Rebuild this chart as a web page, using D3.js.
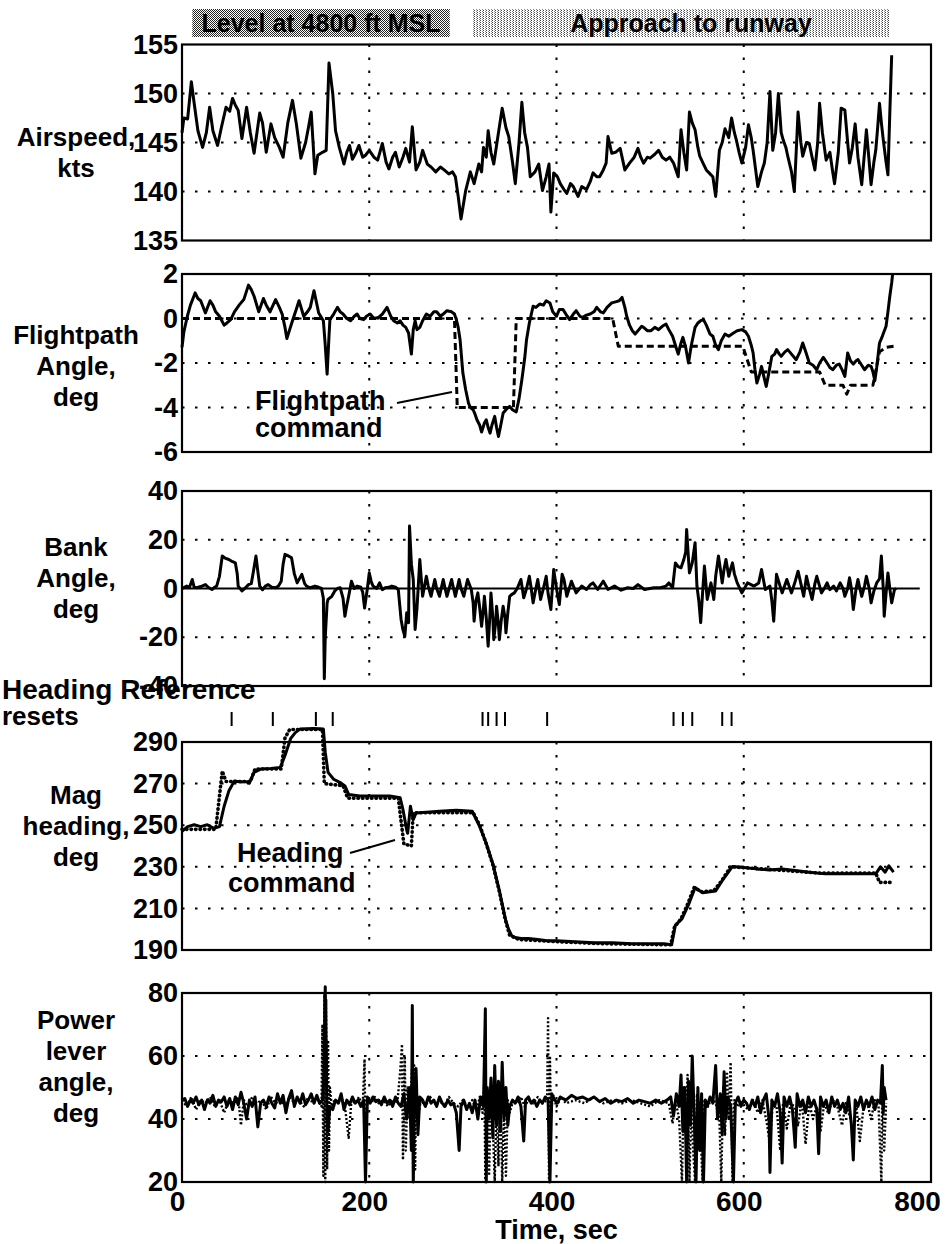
<!DOCTYPE html>
<html>
<head>
<meta charset="utf-8">
<script src="https://cdn.jsdelivr.net/npm/d3@7"></script>
<style>
body { margin: 0; background: #fff; }
svg { display: block; }
text { font-family: "Liberation Sans", Arial, sans-serif; font-weight: bold; fill: #000; }
</style>
</head>
<body>
<script>
// time axis
const timeTicks = [0, 200, 400, 600, 800];
const timeGrid = [200, 400, 600];

// phase banners [start, end, label]
const phases = [[11, 286, "Level at 4800 ft MSL"], [310, 756, "Approach to runway"]];

// heading reference reset times (sec)
const resetTimes = [53, 97, 143, 161, 321, 327, 336, 345, 390, 525, 535, 545, 577, 587];

// airspeed, kts
const airspeed = [[0,146],[2,147.5],[6,147.4],[10,151.2],[13,149],[17,146.2],[22,144.5],[26,146],[29.5,148.6],[33,146.2],[38,144.7],[42,146.5],[47,148.6],[51,148.2],[54,149.5],[57,148.8],[60,148.3],[64,145.4],[69,148.6],[73,146],[77,143.9],[83,148],[86,147],[90,144],[95,146.9],[99,145.5],[104,144.5],[108,143.5],[113,147],[118,149.3],[122,147],[127,143.4],[132,145],[135,146.5],[138,148.1],[142,141.8],[145,143.7],[150,144],[154,144.2],[157,153.1],[161,150],[164,146.2],[168,144.5],[173,142.8],[176,144],[179,144.7],[182,143.3],[186,144],[189,144.7],[193,143.5],[196,143.7],[200,144.2],[205,143.5],[209,143.2],[214,144.9],[218,143],[221,142.3],[225,143.5],[228,144],[232,142.5],[236,143.5],[239,144.4],[243,143],[246,146.6],[250,142.2],[254,143],[257,144.2],[262,142.8],[266,142.5],[271,142],[276,142.5],[280,142.2],[285,141.8],[289,142],[292,141.5],[295,139.5],[298,137.2],[303,140.1],[308,142],[312,140.8],[317,142.8],[320,142],[322,144.5],[325,143.5],[327,146.2],[330,144],[333,142.8],[338,146],[342,148.5],[346,146.5],[349,145.6],[353,143],[356,140.8],[360,145],[363,149.1],[366,146],[369,144.5],[372,141.5],[377,142],[381,142.8],[385,140.1],[389,141.5],[392,142.8],[394,137.9],[397,141.9],[401,141.5],[404,140.8],[408,140.2],[411,139.8],[415,140.8],[418,140.5],[423,139.5],[427,140.5],[432,140.2],[436,141],[439,141.9],[443,141.5],[446,141.5],[450,142.2],[453,142.9],[455,145.6],[459,143.9],[463,144],[468,144.4],[473,142.2],[478,142.9],[483,143.5],[487,144.4],[490,143.5],[493,142.9],[497,143.5],[500,143.4],[505,143.8],[509,144.2],[513,143.5],[517,143.2],[521,143.5],[525,142.9],[530,141.5],[533,146.3],[536,144],[539,142.2],[542,148.1],[545,147],[548,146.3],[551,144.5],[553,143.6],[557,142.8],[560,142.2],[564,141.8],[567,141.5],[570,139.5],[574,144.2],[577,145],[580,146.4],[584,145.5],[587,147.5],[590,146],[592,145.3],[595,144],[598,142.9],[602,144.5],[605,146.8],[608,145.5],[610,144.2],[613,142],[615,140.5],[619,142],[622,142.9],[625,145],[628,150.2],[631,144.2],[634,146],[637,150],[640,146],[642,145.3],[645,144.5],[647,143.6],[651,142],[654,140],[656,144],[658,148.1],[661,145],[663,143.6],[667,145],[670,144.9],[673,143.5],[676,142.2],[679,145],[681,149],[684,146],[688,143.2],[692,144],[695,142],[697,140.8],[701,144],[704,148.5],[708,148.3],[711,145],[713,142.9],[716,144.5],[719,146.9],[722,143.5],[726,140.7],[729,144],[731,146.3],[734,143],[736,140.7],[739,143],[741,144.2],[743,146.5],[745,149],[747,147],[749,145.3],[752,143],[754,141.7],[756,148],[758,153.9]];

// flightpath angle, deg
const flightpath = [[0,-1.3],[2,-0.6],[5.7,0.1],[9,0.6],[14,1.15],[17,0.9],[20,0.8],[25,0.25],[30,0.8],[33,0.6],[36,0.3],[40,0.1],[45,-0.3],[48,-0.2],[52,-0.05],[56,0.3],[61,0.6],[66,0.85],[71,1.5],[74,1.3],[77,1.0],[82,0.3],[87,0.9],[90,0.6],[94,0.3],[100,0.85],[104,0.5],[107,0.2],[110,-0.4],[112,-0.9],[115,-0.5],[118,-0.1],[122,0.4],[125,0.8],[130,0.1],[134,0.3],[137,0.5],[141,1.25],[146,0.25],[151,-0.1],[153,-1.2],[155,-2.5],[157,-0.8],[158,-0.05],[162,0.2],[166,0.5],[169,0.3],[172,0.2],[176,0.0],[180,-0.1],[184,0.1],[187,0.2],[190,0.0],[194,-0.05],[197,0.1],[201,0.2],[205,0.0],[210,0.05],[214,0.2],[219,0.5],[223,0.1],[226,-0.1],[230,-0.2],[233,-0.1],[236,-0.3],[239,-0.4],[242,-0.65],[245,-1.6],[247,-0.5],[249,-0.1],[251,-0.5],[254,-0.4],[257,-0.1],[261,0.2],[265,0.1],[269,0.3],[272,0.3],[276,0.1],[279,0.2],[283,0.35],[288,0.3],[291,0.2],[293,-0.05],[295,-0.4],[297,-0.95],[300,-2.45],[303,-3.2],[306,-3.8],[308,-4.0],[311,-4.1],[313,-4.3],[315,-4.55],[318,-4.8],[320,-5.1],[323,-4.7],[325,-4.55],[327,-4.9],[329,-5.15],[331,-4.8],[334,-4.4],[336,-4.9],[338,-5.3],[340,-4.9],[343,-4.25],[346,-4.1],[350,-3.95],[353,-4.1],[357,-4.2],[360,-3.6],[363,-2.75],[366,-1.8],[368,-0.95],[371,-0.2],[375,0.55],[378,0.5],[382,0.65],[386,0.6],[389,0.8],[393,0.7],[396,0.3],[400,0.1],[403,0.4],[407,0.4],[410,0.2],[414,-0.05],[418,0.2],[421,0.35],[425,0.1],[428,0.05],[432,0.15],[436,0.2],[440,0.3],[443,0.5],[447,0.3],[450,0.25],[454,0.5],[459,0.7],[463,0.75],[467,0.8],[470,0.95],[473,0.5],[475,0.1],[478,-0.3],[481,-0.55],[484,-0.7],[488,-0.5],[491,-0.35],[493,-0.4],[497,-0.55],[501,-0.55],[505,-0.4],[509,-0.5],[513,-0.35],[517,-0.25],[520,-0.5],[524,-0.8],[527,-1.2],[530,-1.6],[533,-1.1],[535,-0.85],[538,-1.3],[541,-2.0],[544,-1.2],[546,-0.8],[548,-0.4],[551,-0.2],[554,-0.1],[557,-0.05],[560,-0.3],[564,-0.7],[567,-0.8],[570,-1.2],[573,-1.4],[576,-1.0],[580,-0.7],[584,-0.8],[589,-0.65],[593,-0.55],[598,-0.5],[602,-0.6],[605,-0.8],[608,-1.2],[610,-1.55],[612,-2.3],[614,-2.9],[617,-2.5],[619,-2.15],[622,-2.7],[624,-3.05],[627,-2.4],[630,-1.7],[633,-1.6],[635,-1.4],[638,-1.6],[640,-1.7],[644,-1.5],[647,-1.4],[651,-1.6],[656,-1.85],[660,-1.5],[663,-1.1],[667,-1.6],[670,-2.0],[674,-2.1],[678,-2.3],[681,-2.0],[685,-1.75],[689,-2.0],[692,-2.2],[695,-2.3],[699,-2.1],[702,-2.05],[705,-2.3],[708,-2.6],[711,-1.55],[714,-1.9],[717,-2.05],[720,-1.9],[722,-1.85],[726,-2.1],[729,-2.3],[733,-2.1],[736,-2.15],[738,-2.4],[740,-2.8],[742,-2.2],[745,-1.1],[748,-0.8],[752,-0.35],[754,0.3],[756,1.0],[758,1.6],[759,2.0]];

// flightpath command, deg
const flightpathCmd = [[0,0],[291,0],[294,-4],[354,-4],[357,0],[460,0],[466,-1.25],[599,-1.25],[608,-2.4],[681,-2.4],[687,-3.0],[706,-3.0],[710,-3.4],[714,-3.0],[738,-3.0],[745,-1.5],[752,-1.3],[760,-1.25]];

// bank angle, deg
const bank = [[0,0],[5,1],[8,0.5],[11,3.7],[13,0.5],[16,0.3],[20,0.8],[25,1.6],[28,0.5],[32,-0.4],[35,0.5],[37,1],[40,5],[43,13.3],[46,12.5],[50,11.9],[54,11],[57,10.5],[59,6],[60,1],[64,-1],[67,0],[71,1.6],[74,2],[76,6.4],[79,13.3],[81,7],[83,1],[86,-0.5],[89,1],[92,1.6],[96,0.5],[100,0.3],[103,1],[106,3],[108,10],[110,14],[113,13.5],[117,12.6],[120,6],[123,2.3],[128,5.8],[131,2],[133,1],[137,0.3],[142,1],[146,0.5],[149,0],[151,-4],[152,-37],[153,-20],[155,-6],[156,-4.5],[160,-3.2],[163,-1.1],[166,0],[169,0.3],[172,-4],[174,-11.4],[176,-7],[178,-3.2],[181,3],[184,0],[187,1],[191,0.5],[193,-1.5],[195,-8],[198,0],[200,6.4],[202,3],[204,1],[208,0],[211,2.3],[214,-0.5],[217,0.3],[221,0.5],[224,1],[228,0.5],[231,-0.4],[234,-12.7],[236,-17],[238,-19.6],[240,-10],[242,-14],[243,25.6],[245,10],[247,3.7],[249,-16.8],[251,-8],[254,11.9],[257,-3.2],[261,5],[263,1],[266,-3.2],[270,3.7],[272,0],[275,-3.2],[279,3.7],[281,0],[283,-3.2],[288,3.7],[290,0],[292,-3.2],[296,3.7],[298,0],[301,-3.2],[305,3.7],[309,-0.4],[311,-6],[312,-13.4],[314,-5],[316,-1.8],[318,-8],[320,-15.5],[322,-8],[323,-3.2],[325,-12],[327,-23.7],[329,-10],[330,-1.8],[332,-12],[333,-21],[335,-14],[336,-7.3],[338,-15],[339,-21],[341,-13],[343,-7.3],[345,-12],[346,-18.2],[348,-10],[350,-3.2],[352,-2.5],[355,-1.8],[358,0],[362,3.7],[365,-3.8],[368,0],[371,5],[373,0],[375,-5.9],[378,0],[380,3.7],[383,-4.5],[386,0],[389,5],[391,-2],[394,-8.6],[397,7.8],[400,0],[403,-6.6],[406,5.8],[408,3.7],[411,-3.2],[416,3],[421,-1.8],[427,1],[432,-0.4],[436,1.5],[439,2.3],[444,-0.4],[450,3],[455,-0.4],[462,1],[469,-0.7],[476,0.3],[482,0],[487,1.6],[494,-0.4],[504,0.3],[511,0.3],[517,1],[520,2.3],[524,0.3],[527,10.5],[530,9],[533,8.5],[536,11.9],[538,15],[539,24.2],[541,12],[542,6.4],[545,10.5],[548,18.8],[550,1],[552,-5],[554,-14],[556,-2],[558,9.2],[561,-4.5],[565,2.3],[568,-4.5],[570,5],[573,13.3],[575,8],[577,2.3],[579,8],[581,11.9],[584,5],[586,8],[588,10.5],[590,6],[593,2.3],[598,-1.8],[604,2.3],[611,1],[616,2.3],[619,7.8],[623,-0.4],[628,1],[630,-5],[632,-13.4],[635,5.8],[638,2],[641,-1.8],[646,3.7],[651,-1.8],[655,3],[658,7.1],[661,2],[664,-3.2],[667,5],[670,0],[673,-4.5],[676,2],[678,5],[681,1],[683,-1.8],[686,0],[689,2.3],[692,-0.5],[696,1],[699,-1],[703,2.3],[706,0],[708,-3.2],[711,0],[713,4.4],[715,0],[717,-8.6],[720,0],[722,3.7],[724,0],[726,-3.2],[729,1],[731,5],[734,0],[736,-5.9],[739,-1],[742,2.3],[745,4],[747,13.3],[749,0],[750,-11.4],[752,-2],[754,6.4],[756,0],[758,-5.9],[761,-0.4],[763,0]];
const bankZeroEnd = 788;

// magnetic heading, deg
const heading = [[0,247],[6,249.3],[13,250.2],[20,249.3],[27,250.2],[34,248.5],[40,249.3],[45,259.1],[50,266.4],[56,271.3],[63,270.8],[68,271],[72,270.2],[77,275.4],[84,277],[95,277.3],[105,277.8],[110,283.5],[116,291.6],[121,294.5],[126,296.2],[141,296.5],[151,296.2],[153,285.1],[156,275.4],[162,272.1],[169,270.5],[174,268.9],[178,264.8],[190,264],[204,264],[222,264],[233,263.2],[236,257.5],[240,247.7],[241,246.1],[244,259.1],[247,252.6],[250,255.9],[261,256.2],[275,256.7],[293,257.2],[310,256.7],[318,249.3],[325,241.2],[332,231.5],[339,218.5],[346,203.8],[349,199.8],[352,197],[356,196],[362,195.5],[370,195.5],[380,195],[390,194.5],[400,194.5],[420,194],[440,193.5],[460,193.5],[480,193],[500,193],[515,193],[523,192.5],[527,202],[534,205],[541,211.8],[548,220],[556,217.5],[570,218.4],[577,223.3],[588,230.2],[598,229.8],[613,229],[627,228.5],[641,229],[655,228.2],[670,227.4],[687,226.6],[705,226.6],[723,226.6],[741,226.6],[746,230],[751,227.4],[755,230.5],[760,227.4]];

// heading command, deg
const headingCmd = [[0,248],[36,248],[43,276],[47,271],[73,271],[78,277],[106,277],[110,292],[115,296],[150,296],[152,270],[172,269],[177,263],[231,263],[234,252],[237,241],[245,240],[247,256],[311,256],[318,250],[325,241],[332,231],[339,218],[345,205],[350,197],[360,195],[400,194],[450,193],[522,192.5],[526,201],[533,205],[540,212],[547,220],[555,218],[568,218.5],[576,223],[586,230],[620,229],[680,227],[741,227],[745,222.5],[757,222.5]];

// power lever angle, deg
const power = [[0,46],[3,46.5],[6,44],[9,46],[12,45],[15,47],[18,44.5],[21,46],[24,43],[27,46],[30,45],[33,47.5],[36,44],[39,46],[42,45.5],[45,47],[48,44],[51,46.5],[54,43],[57,47],[60,44.5],[63,48.5],[66,45],[69,40],[72,46],[75,44],[78,47],[81,37.5],[84,45],[87,46],[90,44],[93,47],[96,45],[99,43.5],[102,48],[105,45],[108,47.5],[111,42],[114,46.5],[117,49],[120,44],[123,47],[126,45],[129,48],[132,44.5],[135,46],[138,48],[141,45],[144,47.5],[147,45],[150,46],[152,55],[153,82],[154,60],[155,40],[156,36],[158,44],[161,43],[164,46],[167,45],[170,48],[173,43],[176,46],[179,44.5],[182,47],[185,45],[188,46],[191,44],[194,46],[196,20],[198,47],[201,45],[204,47],[207,45.5],[210,46],[213,44.5],[216,47],[219,45],[222,46],[225,44],[228,47],[231,45],[234,44],[237,48],[240,40],[243,50],[245,30],[246,76],[247,20],[248,40],[250,56],[252,35],[254,47],[257,46],[260,44],[263,47],[266,45],[269,46],[272,44],[275,47],[278,45],[281,44],[284,46],[287,44.5],[290,45],[293,42],[296,30],[298,44],[301,46],[304,43],[307,45],[310,42],[313,46],[316,40],[319,47],[322,44],[324,75],[325,20],[326,50],[328,40],[330,53],[332,34],[334,57],[336,38],[338,52],[340,36],[342,58],[344,40],[346,50],[348,38],[350,44],[353,46],[356,45],[359,47],[362,44],[365,33],[367,46],[370,47],[373,45],[376,46],[379,44],[382,46],[385,45],[388,47],[391,46],[393,20],[395,48],[398,46],[401,45],[404,47],[410,46],[416,47.5],[422,46.5],[428,47],[434,46],[440,47],[446,45.5],[452,46.5],[458,45],[464,46],[470,45.5],[476,46.5],[482,45],[488,46],[494,45.5],[500,45],[506,46],[512,45],[518,46],[522,47],[525,41],[528,48],[531,44],[533,54],[535,36],[537,50],[539,20],[541,52],[543,38],[545,60],[547,42],[549,20],[551,50],[553,30],[555,48],[557,20],[559,46],[561,44],[564,47],[567,45],[570,57],[572,40],[575,48],[577,35],[579,55],[581,40],[583,47],[586,44],[589,20],[591,45],[594,47],[597,44],[600,46],[603,45],[606,43],[609,46],[612,44],[615,47],[618,42],[621,46],[624,48],[627,40],[628,23],[630,46],[633,44],[636,48],[639,42],[641,26],[643,47],[646,44],[649,47],[652,43],[655,31],[657,48],[660,44],[663,46],[666,42],[669,47],[672,44],[675,46],[678,43],[680,29],[682,47],[685,44],[688,46],[691,42],[694,47],[697,44],[700,46],[703,43],[706,45],[709,42],[712,47],[715,38],[717,27],[719,46],[722,44],[725,47],[728,43],[731,46],[734,44],[737,47],[740,43],[743,46],[746,45],[748,57],[749,42],[750,50],[752,46]];

// power lever command, deg
const powerCmd = [[0,46],[5,44],[10,47],[15,43],[20,46],[25,45],[30,47],[35,44],[40,46],[45,42],[50,46],[55,45],[60,47],[63,38],[66,46],[70,44],[75,47],[80,45],[85,46],[90,43],[95,47],[100,45],[105,46],[110,44],[115,47],[120,45],[125,46],[130,44],[135,47],[140,45],[145,46],[149,44],[150,70],[151,22],[152,80],[153,20],[154,78],[155,24],[156,65],[157,30],[158,50],[160,44],[163,46],[167,45],[170,47],[174,44],[178,34],[181,46],[185,45],[189,47],[193,44],[195,59],[196,30],[198,46],[202,45],[206,47],[210,45],[215,46],[220,44],[225,46],[230,45],[233,55],[235,63.7],[236,27],[238,60],[239,30],[241,50],[243,40],[246,58],[247,20],[248,57],[249,24],[250,52],[252,40],[255,46],[260,44],[265,47],[270,45],[275,46],[280,44],[285,47],[290,45],[295,44],[300,46],[305,44],[310,46],[315,43],[318,47],[321,42],[323,52],[324,20],[326,48],[328,22],[330,50],[332,38],[334,20],[336,46],[338,25],[340,52],[342,20],[344,44],[346,22],[348,46],[350,42],[354,46],[358,45],[362,47],[366,44],[370,46],[375,45],[380,47],[385,45],[390,46],[391,72],[392,20],[393,60],[394,40],[396,48],[400,44],[405,47],[410,45],[420,46],[430,45],[440,47],[450,45],[460,46],[470,45],[480,46],[490,45],[500,44],[510,46],[520,45],[524,38.6],[527,46],[531,40],[534,20],[536,50],[538,38],[540,54],[542,20],[544,46],[546,30],[548,20],[550,48],[553,42],[556,20],[558,46],[562,44],[566,47],[570,45],[574,40],[576,20],[578,50],[580,35],[582,55],[584,40],[586,58],[588,20],[590,46],[593,44],[597,46],[601,44],[605,43],[610,46],[615,42],[620,46],[625,38],[628,32],[631,45],[635,44],[639,30],[642,45],[646,37],[650,45],[654,44],[658,38],[662,46],[666,32],[670,45],[674,40],[678,44],[682,36],[686,45],[690,42],[695,46],[700,44],[705,38],[709,45],[714,40],[717,36],[720,45],[724,33],[728,44],[732,45],[736,40],[740,46],[744,44],[747,20],[748,50],[750,30],[752,45]];

const width = 945;
const height = 1244;

const svg = d3.select("body").append("svg")
	.attr("width", width)
	.attr("height", height);

// stipple patterns for banners
const defs = svg.append("defs");
const pDark = defs.append("pattern").attr("id", "stipDark")
	.attr("width", 2).attr("height", 2).attr("patternUnits", "userSpaceOnUse");
pDark.append("rect").attr("width", 2).attr("height", 2).attr("fill", "#fff");
pDark.append("rect").attr("width", 1).attr("height", 1).attr("fill", "#222");
pDark.append("rect").attr("x", 1).attr("y", 1).attr("width", 1).attr("height", 1).attr("fill", "#222");
const pLight = defs.append("pattern").attr("id", "stipLight")
	.attr("width", 3).attr("height", 2).attr("patternUnits", "userSpaceOnUse");
pLight.append("rect").attr("width", 3).attr("height", 2).attr("fill", "#fff");
pLight.append("rect").attr("width", 1).attr("height", 1).attr("fill", "#444");
pLight.append("rect").attr("x", 2).attr("y", 1).attr("width", 1).attr("height", 1).attr("fill", "#888");

const x = d3.scaleLinear().domain([0, 800]).range([182, 931]);

// banners
phases.forEach((p, i) => {
	svg.append("rect")
		.attr("x", x(p[0])).attr("y", 9)
		.attr("width", x(p[1]) - x(p[0])).attr("height", 28)
		.attr("fill", i === 0 ? "url(#stipDark)" : "url(#stipLight)");
	svg.append("text")
		.attr("x", (x(p[0]) + x(p[1])) / 2 + (i === 0 ? 0 : 10))
		.attr("y", 32)
		.attr("text-anchor", "middle")
		.attr("font-size", 25)
		.text(p[2]);
});

const styles = {
	solid: { width: 3, dash: null, cap: "butt" },
	dashed: { width: 3, dash: "7,4", cap: "butt" },
	dotted: { width: 3.6, dash: "0.5,4", cap: "round" },
	dots: { width: 2.4, dash: "2,2", cap: "butt" }
};

const panels = [
	{ domain: [135, 155], range: [240.5, 44.5], ticks: [135, 140, 145, 150, 155], grid: [140, 145, 150],
	  title: ["Airspeed,", "kts"], titleY: 152,
	  series: [{ data: airspeed, style: "solid" }] },
	{ domain: [-6, 2], range: [452, 274], ticks: [-6, -4, -2, 0, 2], grid: [-4, -2, 0],
	  title: ["Flightpath", "Angle,", "deg"], titleY: 366,
	  series: [{ data: flightpathCmd, style: "dashed" }, { data: flightpath, style: "solid" }] },
	{ domain: [-40, 40], range: [686, 491], ticks: [-40, -20, 0, 20, 40], grid: [-20, 20],
	  title: ["Bank", "Angle,", "deg"], titleY: 578, zeroLine: true,
	  series: [{ data: bank, style: "solid" }] },
	{ domain: [190, 290], range: [950, 742], ticks: [190, 210, 230, 250, 270, 290], grid: [210, 230, 250, 270],
	  title: ["Mag", "heading,", "deg"], titleY: 826,
	  series: [{ data: headingCmd, style: "dotted" }, { data: heading, style: "solid" }] },
	{ domain: [20, 80], range: [1182, 993], ticks: [20, 40, 60, 80], grid: [40, 60],
	  title: ["Power", "lever", "angle,", "deg"], titleY: 1066,
	  series: [{ data: powerCmd, style: "dots" }, { data: power, style: "solid" }] }
];

panels.forEach((p, idx) => {
	const y = d3.scaleLinear().domain(p.domain).range(p.range);
	const g = svg.append("g");

	// dotted grid
	g.selectAll(".hgrid").data(p.grid).join("line")
		.attr("x1", x(0)).attr("x2", x(800))
		.attr("y1", d => y(d)).attr("y2", d => y(d))
		.attr("stroke", "#000").attr("stroke-width", 2)
		.attr("stroke-dasharray", "2.5,10.5");
	g.selectAll(".vgrid").data(timeGrid).join("line")
		.attr("x1", d => x(d)).attr("x2", d => x(d))
		.attr("y1", p.range[1]).attr("y2", p.range[0])
		.attr("stroke", "#000").attr("stroke-width", 2)
		.attr("stroke-dasharray", "2.5,10.5");

	if (p.zeroLine) {
		g.append("line")
			.attr("x1", x(0)).attr("x2", x(bankZeroEnd))
			.attr("y1", y(0)).attr("y2", y(0))
			.attr("stroke", "#000").attr("stroke-width", 2);
	}

	// series
	const line = d3.line().x(d => x(d[0])).y(d => y(d[1]));
	p.series.forEach(s => {
		const st = styles[s.style];
		g.append("path")
			.attr("d", line(s.data))
			.attr("fill", "none")
			.attr("stroke", "#000")
			.attr("stroke-width", st.width)
			.attr("stroke-linejoin", "round")
			.attr("stroke-linecap", st.cap)
			.attr("stroke-dasharray", st.dash);
	});

	// frame
	g.append("rect")
		.attr("x", x(0)).attr("y", p.range[1])
		.attr("width", x(800) - x(0)).attr("height", p.range[0] - p.range[1])
		.attr("fill", "none").attr("stroke", "#000").attr("stroke-width", 2.2);

	// y axis labels
	const ax = svg.append("g")
		.attr("transform", "translate(178,0)")
		.call(d3.axisLeft(y).tickValues(p.ticks).tickSize(0).tickPadding(0).tickFormat(d => String(d)));
	ax.select(".domain").remove();
	ax.selectAll("text")
		.attr("font-size", 27)
		.attr("font-family", "Liberation Sans, Arial, sans-serif")
		.attr("font-weight", "bold")
		.attr("fill", "#000");

	// panel title
	const n = p.title.length;
	svg.append("text")
		.attr("x", 76)
		.attr("y", p.titleY - (n - 1) * 15.5 + 9)
		.attr("text-anchor", "middle")
		.attr("font-size", 26)
		.selectAll("tspan").data(p.title).join("tspan")
		.attr("x", 76)
		.attr("dy", (d, i) => i === 0 ? 0 : 31)
		.text(d => d);

	if (idx === panels.length - 1) {
		const xa = svg.append("g")
			.attr("transform", `translate(0,${p.range[0]})`)
			.call(d3.axisBottom(x).tickValues(timeTicks).tickSize(0).tickPadding(9).tickFormat(d => String(d)));
		xa.select(".domain").remove();
		xa.selectAll("text")
			.attr("font-size", 28)
			.attr("font-family", "Liberation Sans, Arial, sans-serif")
			.attr("font-weight", "bold")
			.attr("fill", "#000")
			.attr("dx", d => d === 800 ? -14 : -5);
	}
});

// x axis title
svg.append("text")
	.attr("x", x(400))
	.attr("y", 1239)
	.attr("text-anchor", "middle")
	.attr("font-size", 27)
	.text("Time, sec");

// heading reference resets
svg.append("text")
	.attr("x", 2).attr("y", 699)
	.attr("font-size", 28)
	.text("Heading Reference");
svg.append("text")
	.attr("x", 2).attr("y", 725)
	.attr("font-size", 26)
	.text("resets");
svg.selectAll(".reset").data(resetTimes).join("line")
	.attr("x1", d => x(d)).attr("x2", d => x(d))
	.attr("y1", 712).attr("y2", 726)
	.attr("stroke", "#000").attr("stroke-width", 2);

// annotations
svg.append("text").attr("x", 255).attr("y", 410).attr("font-size", 27).text("Flightpath");
svg.append("text").attr("x", 255).attr("y", 437).attr("font-size", 27).text("command");
svg.append("line")
	.attr("x1", 397).attr("y1", 403).attr("x2", 452).attr("y2", 392)
	.attr("stroke", "#000").attr("stroke-width", 2);

svg.append("text").attr("x", 237).attr("y", 862).attr("font-size", 27).text("Heading");
svg.append("text").attr("x", 228).attr("y", 892).attr("font-size", 27).text("command");
svg.append("line")
	.attr("x1", 350).attr("y1", 853).attr("x2", 395).attr("y2", 840)
	.attr("stroke", "#000").attr("stroke-width", 2);
</script>
</body>
</html>
